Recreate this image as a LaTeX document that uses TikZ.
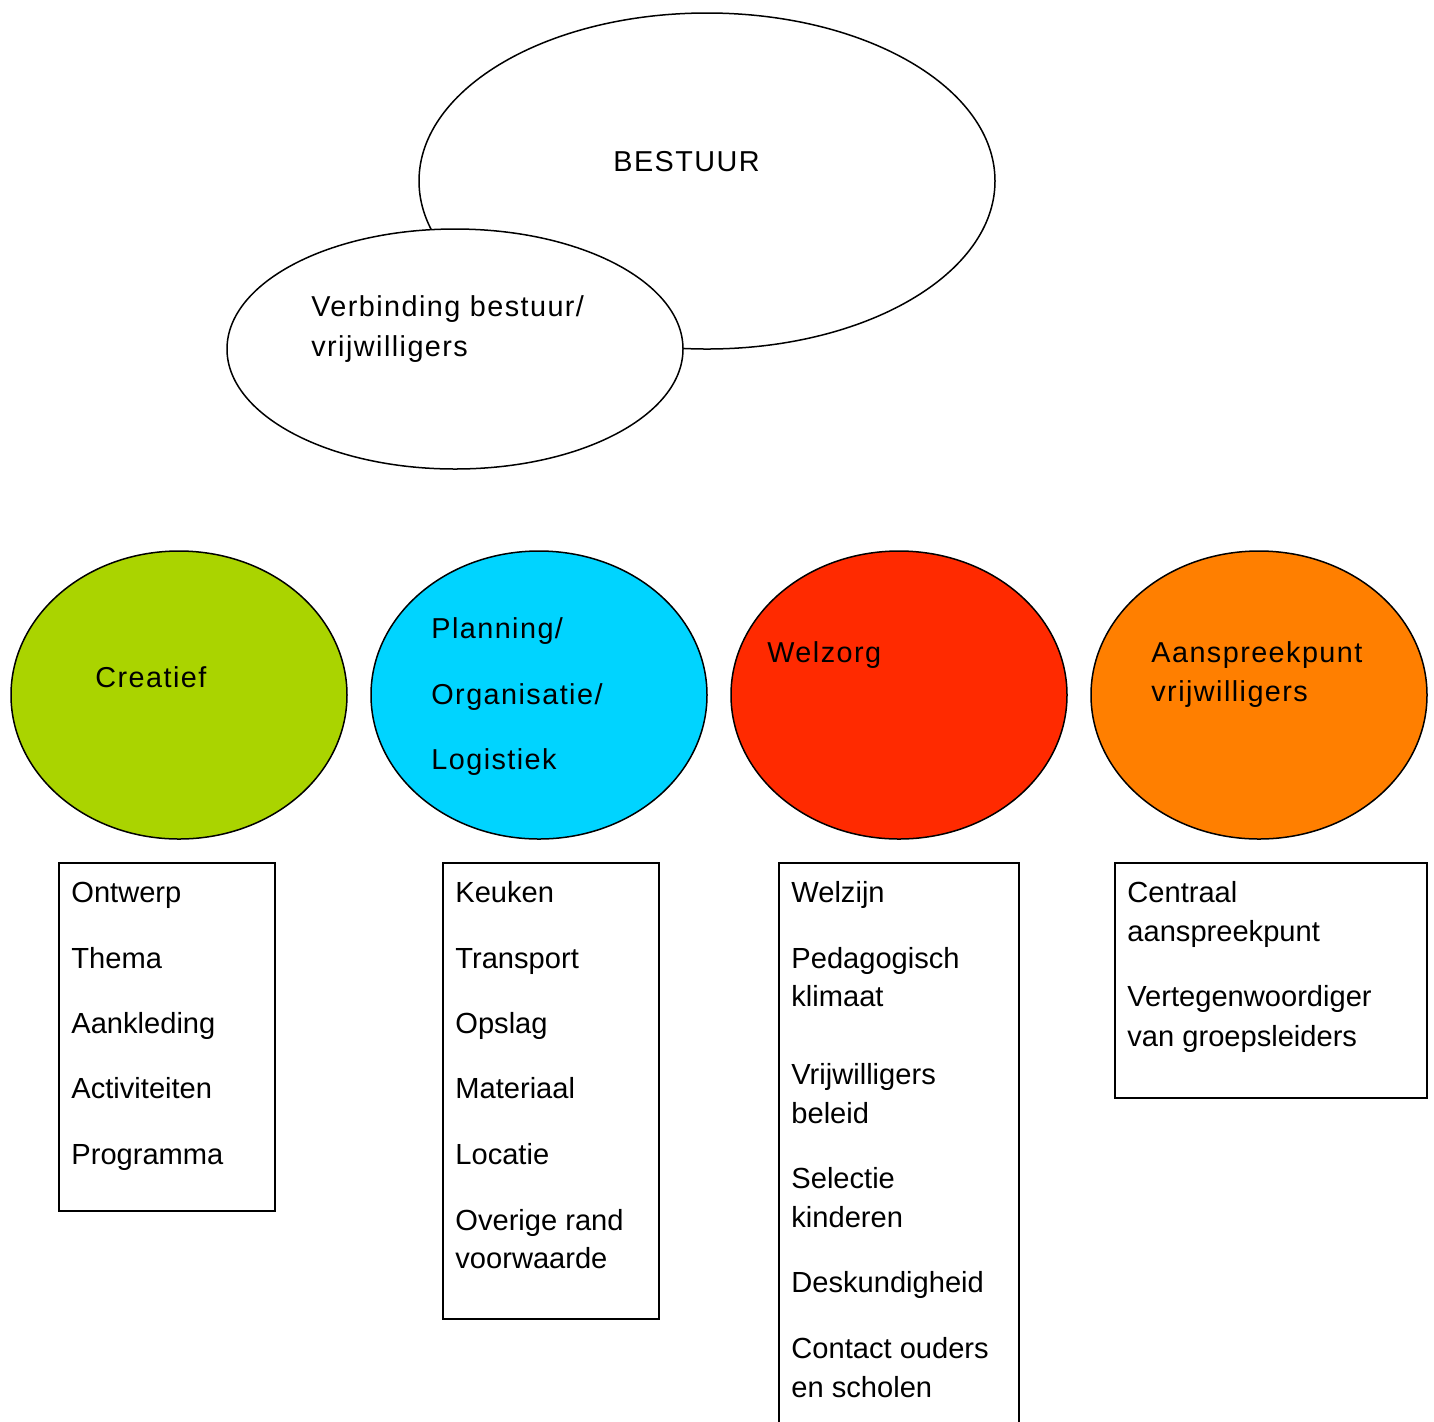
\documentclass[tikz,border=0pt]{standalone}
\usepackage{fontspec}
\setmainfont{Liberation Sans}
\usetikzlibrary{shapes.geometric}
\definecolor{cgreen}{HTML}{AAD400}
\definecolor{ccyan}{HTML}{00D4FF}
\definecolor{cred}{HTML}{FF2A00}
\definecolor{corange}{HTML}{FF7F00}
\begin{document}
\begin{tikzpicture}[x=0.5pt,y=-0.5pt,
  oval/.style={draw=black,line width=0.75pt,ellipse,inner sep=0pt},
  bigoval/.style={oval,minimum width=168pt,minimum height=144pt},
  itembox/.style={draw=black,line width=0.75pt},
  txt/.style={anchor=base west,inner sep=0pt,font=\fontsize{14.55}{17}\selectfont},
  otxt/.style={txt,font=\fontsize{14.4}{17}\selectfont\addfontfeatures{LetterSpace=5}}]
\useasboundingbox (0,0) rectangle (1434,1421);
% top ellipses
\node[oval,fill=white,minimum width=288pt,minimum height=168pt] (bestuur) at (707,181) {};
\node[oval,fill=white,minimum width=228pt,minimum height=120pt] (verb) at (455,349) {};
\node[otxt] (tbest) at (613,171) {BESTUUR};
\node[otxt] (tverb1) at (311,316) {Verbinding bestuur/};
\node[otxt] (tverb2) at (311,356) {vrijwilligers};
% coloured ellipses
\node[bigoval,fill=cgreen] (creatief) at (179,695) {};
\node[bigoval,fill=ccyan] (planning) at (539,695) {};
\node[bigoval,fill=cred] (welzorg) at (899,695) {};
\node[bigoval,fill=corange] (aansp) at (1259,695) {};
\node[otxt] (tcre) at (95,687) {Creatief};
\node[otxt] (tpl1) at (431,638) {Planning/};
\node[otxt] (tpl2) at (431,704) {Organisatie/};
\node[otxt] (tpl3) at (431,769) {Logistiek};
\node[otxt] (twel) at (767,662) {Welzorg};
\node[otxt] (taa1) at (1151,662) {Aanspreekpunt};
\node[otxt] (taa2) at (1151,701) {vrijwilligers};
% boxes
\draw[itembox] (59,863) rectangle (275,1211);
\draw[itembox] (443,863) rectangle (659,1319);
\draw[itembox] (779,1430) -- (779,863) -- (1019,863) -- (1019,1430);
\draw[itembox] (1115,863) rectangle (1427,1098);
% box 1
\node[txt] (a1) at (71,902) {Ontwerp};
\node[txt] (a2) at (71,968) {Thema};
\node[txt] (a3) at (71,1033) {Aankleding};
\node[txt] (a4) at (71,1098) {Activiteiten};
\node[txt] (a5) at (71,1164) {Programma};
% box 2
\node[txt] (b1) at (455,902) {Keuken};
\node[txt] (b2) at (455,968) {Transport};
\node[txt] (b3) at (455,1033) {Opslag};
\node[txt] (b4) at (455,1098) {Materiaal};
\node[txt] (b5) at (455,1164) {Locatie};
\node[txt] (b6) at (455,1230) {Overige rand};
\node[txt] (b7) at (455,1268) {voorwaarde};
% box 3
\node[txt] (c1) at (791,902) {Welzijn};
\node[txt] (c2) at (791,968) {Pedagogisch};
\node[txt] (c3) at (791,1006) {klimaat};
\node[txt] (c4) at (791,1084) {Vrijwilligers};
\node[txt] (c5) at (791,1123) {beleid};
\node[txt] (c6) at (791,1188) {Selectie};
\node[txt] (c7) at (791,1227) {kinderen};
\node[txt] (c8) at (791,1292) {Deskundigheid};
\node[txt] (c9) at (791,1358) {Contact ouders};
\node[txt] (c10) at (791,1397) {en scholen};
% box 4
\node[txt] (d1) at (1127,902) {Centraal};
\node[txt] (d2) at (1127,941) {aanspreekpunt};
\node[txt] (d3) at (1127,1006) {Vertegenwoordiger};
\node[txt] (d4) at (1127,1046) {van groepsleiders};
\end{tikzpicture}
\end{document}
